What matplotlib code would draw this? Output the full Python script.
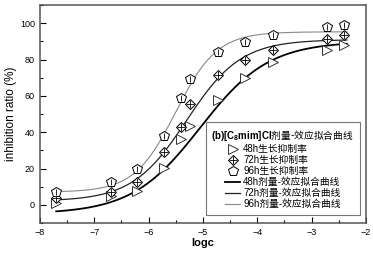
import matplotlib
matplotlib.use('Agg')
import matplotlib.pyplot as plt
import numpy as np

plt.rcParams['font.family'] = ['Liberation Sans', 'Noto Sans CJK SC', 'DejaVu Sans']
plt.rcParams['mathtext.fontset'] = 'custom'
plt.rcParams['mathtext.rm'] = 'Liberation Sans'
plt.rcParams['mathtext.bf'] = 'Liberation Sans:bold'

logc = [-7.7, -6.7, -6.22, -5.72, -5.41, -5.23, -4.72, -4.22, -3.71, -2.71, -2.41]
rate_48h = [1.0, 5.0, 7.7, 20.3, 36.0, 43.4, 57.7, 69.8, 78.6, 85.2, 87.9]
rate_72h = [3.8, 7.1, 12.6, 29.0, 43.0, 55.5, 71.4, 79.7, 85.2, 91.2, 93.4]
rate_96h = [7.3, 12.5, 19.6, 38.0, 59.0, 69.5, 84.0, 89.6, 93.4, 97.8, 98.9]
hours = ['48h', '72h', '96h']

# Boltzmann fit parameters (A1, A2, x0, dx)
fit_48h = [-5.0, 90.0, -5.05, 0.63]
fit_72h = [2.0, 91.0, -5.30, 0.50]
fit_96h = [7.0, 95.3, -5.50, 0.38]
fit_range = [-7.7, -2.35]


def boltzmann(t, a1, a2, x0, dx):
    return a2 + (a1 - a2) / (1 + np.exp((t - x0) / dx))


fig = plt.figure(figsize=(3.73, 2.56), dpi=100)
ax = fig.add_axes([0.107, 0.129, 0.874, 0.851])

xs = np.linspace(fit_range[0], fit_range[1], 300)
line_styles = [dict(color='black', lw=1.3), dict(color='#222222', lw=0.9), dict(color='#888888', lw=0.8)]
curve_handles = []
for params, st in zip([fit_48h, fit_72h, fit_96h], line_styles):
    h, = ax.plot(xs, boltzmann(xs, *params), **st)
    curve_handles.append(h)

mk = dict(mfc='white', mec='black', mew=0.7, ls='none', ms=7)
tri, = ax.plot(logc, rate_48h, marker='>', **dict(mk, mec='#333333'))
dia, = ax.plot(logc, rate_72h, marker='D', **dict(mk, ms=5.5))
dia_bar, = ax.plot(logc, rate_72h, marker='+', color='black', mew=0.6, ls='none', ms=5.5)
pen, = ax.plot(logc, rate_96h, marker='p', **mk)
pen_bar, = ax.plot(logc, rate_96h, marker='|', color='black', mew=0.6, ls='none', ms=4)

ax.set_xlim(-8, -2)
ax.set_ylim(-10, 110)
ax.set_xticks(np.arange(-8, -1, 1))
ax.set_xticks(np.arange(-7.5, -2, 1), minor=True)
ax.set_yticks(np.arange(0, 101, 20))
ax.set_yticks(np.arange(-10, 111, 10), minor=True)
ax.tick_params(which='both', direction='in', top=False, right=False, labelsize=6.5, width=0.8)
ax.tick_params(which='major', length=4)
ax.tick_params(which='minor', length=2)
for s in ax.spines.values():
    s.set_color('#555555')
    s.set_linewidth(1.1)

ax.set_xlabel('logc', fontsize=8, fontweight='bold', labelpad=1)
ax.set_ylabel('inhibition ratio (%)', fontsize=8.5, labelpad=2)

handles = [tri, (dia, dia_bar), pen] + curve_handles
labels = [h + '生长抑制率' for h in hours] + [h + '剂量-效应拟合曲线' for h in hours]
leg = ax.legend(handles, labels, loc='lower right', bbox_to_anchor=(0.982, 0.037),
                title=r'$\mathbf{(b)[C_8mim]Cl}$剂量-效应拟合曲线',
                title_fontproperties={'family': 'Noto Sans CJK SC', 'size': 7},
                fontsize=7, frameon=True, fancybox=False,
                edgecolor='#555555', labelspacing=0.1, handlelength=1.6,
                handletextpad=0.3, borderpad=0.6, borderaxespad=0)
leg.get_frame().set_linewidth(0.8)

fig.savefig('out.png', dpi=100)
